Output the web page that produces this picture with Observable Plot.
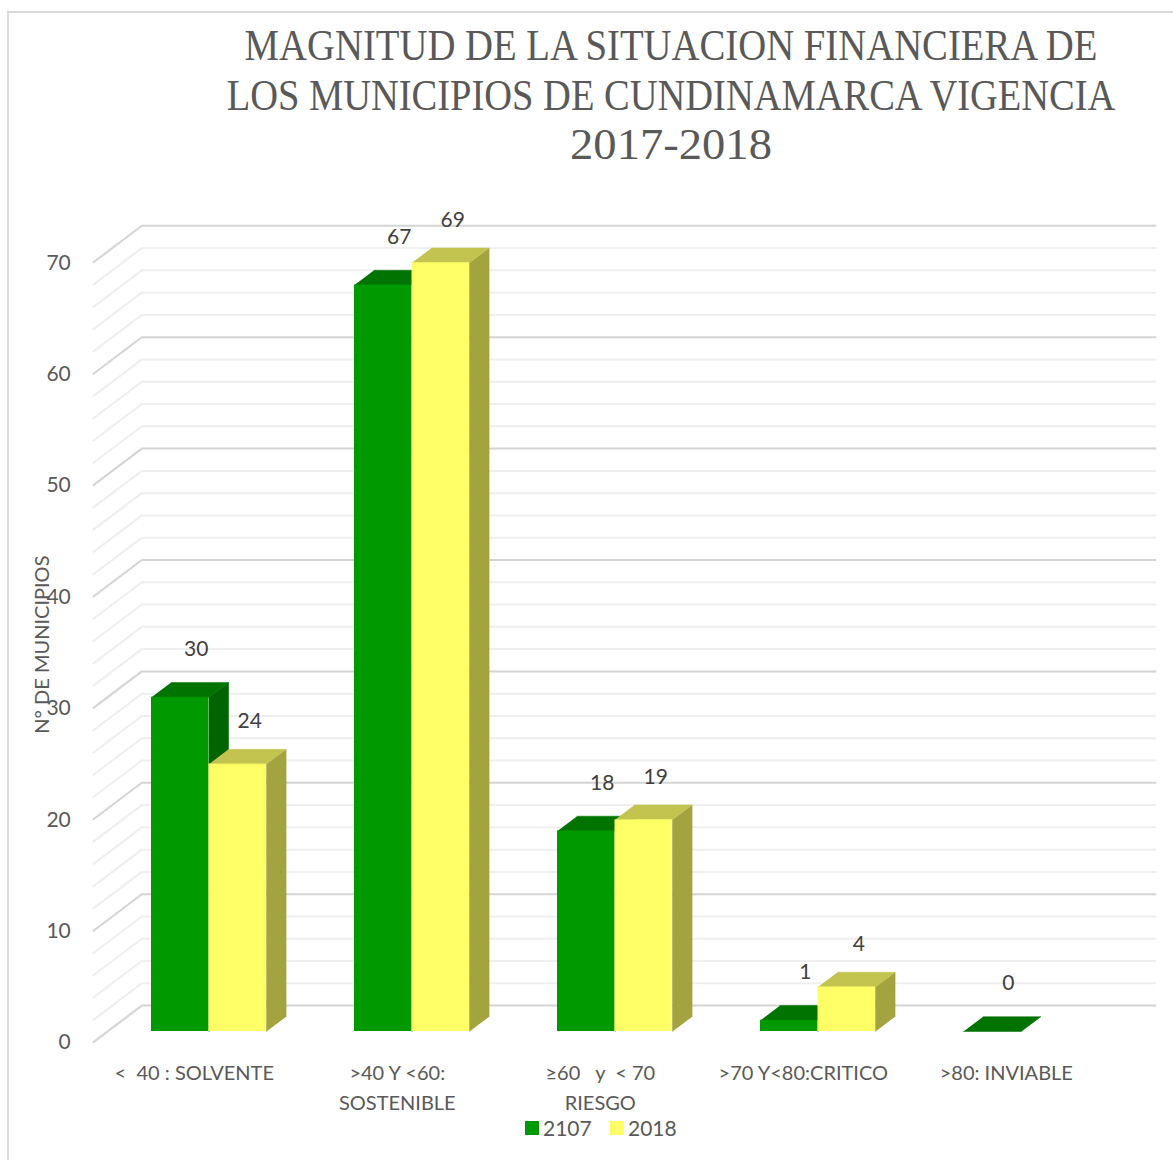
<!DOCTYPE html>
<html><head><meta charset="utf-8">
<script src="https://cdn.jsdelivr.net/npm/d3@7"></script>
<script src="https://cdn.jsdelivr.net/npm/@observablehq/plot@0.6"></script>
<style>
body{margin:0;background:#fff;}
#frame{position:absolute;left:7px;top:11px;width:1166px;height:1149px;border-left:2px solid #d9d9d9;border-top:2px solid #d9d9d9;box-sizing:border-box;}
#chart{position:absolute;left:0;top:0;}
svg text{white-space:pre;}
</style></head><body>
<div id="frame"></div><div id="chart"></div>
<script>
// ---- data ----
const categories = ["<  40 : SOLVENTE", ">40 Y <60:\nSOSTENIBLE", "≥60   y  < 70\nRIESGO", ">70 Y<80:CRITICO", ">80: INVIABLE"];
const seriesNames = ["2107", "2018"];
const values2107 = [30, 67, 18, 1, 0];
const values2018 = [24, 69, 19, 4, null];
const yTicks = [0, 10, 20, 30, 40, 50, 60, 70];
const titleLines = ["MAGNITUD DE LA SITUACION FINANCIERA DE", "LOS MUNICIPIOS DE CUNDINAMARCA VIGENCIA", "2017-2018"];
const yTitle = "N° DE MUNICIPIOS";

// ---- colours ----
const faceColors = [
  {front: "#009900", top: "#007300", side: "#006400"},
  {front: "#ffff66", top: "#c3c350", side: "#a3a340"}
];

// ---- layout / projection ----
const W = 1173, H = 1160;
const ML = 107, MR = 51;
const Y0 = 1031, KY = 11.14;
const MT = Y0 - 70 * KY, MB = H - Y0;
const KX = (W - ML - MR) / 5;
const DX = 49, DY = 37, F = 0.3, B = 0.7;
const BW = 57.5 / KX;
const P = (u, v, d) => [u + (d - F) * DX / KX, v + (d - F) * DY / KY];

const allValues = [values2107, values2018];
const bars = [];
allValues.forEach((vals, s) => vals.forEach((v, i) => {
  if (v == null) return;
  const x0 = i + 0.5 - BW + s * BW, x1 = x0 + BW;
  bars.push({s, i, v, x0, x1});
}));
function polys(s, kind) {
  const pts = [];
  bars.filter(b => b.s === s).forEach(b => {
    const id = kind + s + "-" + b.i;
    let c;
    if (kind === "top") c = [P(b.x0, b.v, F), P(b.x1, b.v, F), P(b.x1, b.v, B), P(b.x0, b.v, B)];
    else c = [P(b.x1, 0, F), P(b.x1, b.v, F), P(b.x1, b.v, B), P(b.x1, 0, B)];
    c.forEach(p => pts.push({id, x: p[0], y: p[1]}));
  });
  return pts;
}

const grid = d3.range(0, 71, 2);
const gridMajor = grid.filter(v => v % 10 === 0);
const gridMinor = grid.filter(v => v % 10 !== 0);

const gridMarks = (vals, color) => [
  Plot.ruleY(vals, {y: d => d, x1: 0, x2: 5, dx: (1 - F) * DX, dy: -(1 - F) * DY, stroke: color, strokeWidth: 2}),
  Plot.link(vals, {x1: v => P(0, v, 0)[0], y1: v => P(0, v, 0)[1], x2: v => P(0, v, 1)[0], y2: v => P(0, v, 1)[1], stroke: color, strokeWidth: 2})
];

const barMarks = [];
[0, 1].forEach(s => {
  const c = faceColors[s];
  barMarks.push(Plot.line(polys(s, "side"), {x: "x", y: "y", z: "id", fill: c.side, stroke: c.side, strokeWidth: 0.5}));
  barMarks.push(Plot.line(polys(s, "top"), {x: "x", y: "y", z: "id", fill: c.top, stroke: c.top, strokeWidth: 0.5}));
  barMarks.push(Plot.rect(bars.filter(b => b.s === s), {x1: "x0", x2: "x1", y1: 0, y2: "v", fill: c.front}));
});

const txt = {fontFamily: "Lato", fontSize: 20};

const chart = Plot.plot({
  width: W, height: H,
  marginLeft: ML, marginRight: MR, marginTop: MT, marginBottom: MB,
  x: {domain: [0, 5], axis: null},
  y: {domain: [0, 70], axis: null},
  style: {background: "transparent", fontFamily: "Lato"},
  marks: [
    ...gridMarks(gridMinor, "#efefef"),
    ...gridMarks(gridMajor, "#d4d4d4"),
    ...barMarks,
    Plot.text(bars.filter(b => b.s === 0), {x: b => (b.x0 + b.x1) / 2, y: "v", text: b => String(b.v), dx: 16, dy: -48, fill: "#404040", fontFamily: "Lato", fontSize: 21}),
    Plot.text(bars.filter(b => b.s === 1), {x: b => (b.x0 + b.x1) / 2, y: "v", text: b => String(b.v), dx: 12, dy: -43, fill: "#404040", fontFamily: "Lato", fontSize: 21}),
    Plot.text(yTicks, {x: v => P(0, v, 0)[0], y: v => P(0, v, 0)[1], text: v => String(v), textAnchor: "end", dx: -22, fill: "#595959", fontFamily: "Lato", fontSize: 21}),
    Plot.text(categories, {x: (d, i) => i + 0.5, y: 0, text: d => d, dx: -F * DX, dy: F * DY + 16, lineAnchor: "top", lineHeight: 1.5, fill: "#595959", ...txt}),
    Plot.text([yTitle], {frameAnchor: "left", text: d => d, textAnchor: "middle", rotate: -90, dx: -65, dy: 3, fill: "#595959", ...txt})
  ]
});
document.getElementById("chart").appendChild(chart);

// title & legend
const svg = d3.select(chart);
const tl = [{t: titleLines[0], len: 853, y: 60}, {t: titleLines[1], len: 889, y: 110}, {t: titleLines[2], len: 202, y: 159}];
svg.append("g").selectAll("text").data(tl).join("text")
  .attr("x", 0).attr("y", 0).attr("text-anchor", "middle")
  .attr("font-family", "Liberation Serif").attr("font-size", 44).attr("fill", "#595959")
  .text(d => d.t)
  .each(function(d) {
    const n = this.getComputedTextLength();
    const sx = n > 0 ? d.len / n : 1;
    this.setAttribute("transform", `translate(671,${d.y}) scale(${sx},1)`);
  });
const lg = svg.append("g").attr("text-anchor", "start");
const legendItems = [{name: seriesNames[0], color: faceColors[0].front, x: 525}, {name: seriesNames[1], color: faceColors[1].front, x: 610}];
lg.selectAll("rect").data(legendItems).join("rect").attr("x", d => d.x).attr("y", 1121).attr("width", 14).attr("height", 14).attr("fill", d => d.color);
lg.selectAll("text").data(legendItems).join("text").attr("x", d => d.x + 18).attr("y", 1136)
  .attr("text-anchor", "start")
  .attr("font-family", "Lato").attr("font-size", 21).attr("fill", "#595959").text(d => d.name);
</script>
</body></html>
